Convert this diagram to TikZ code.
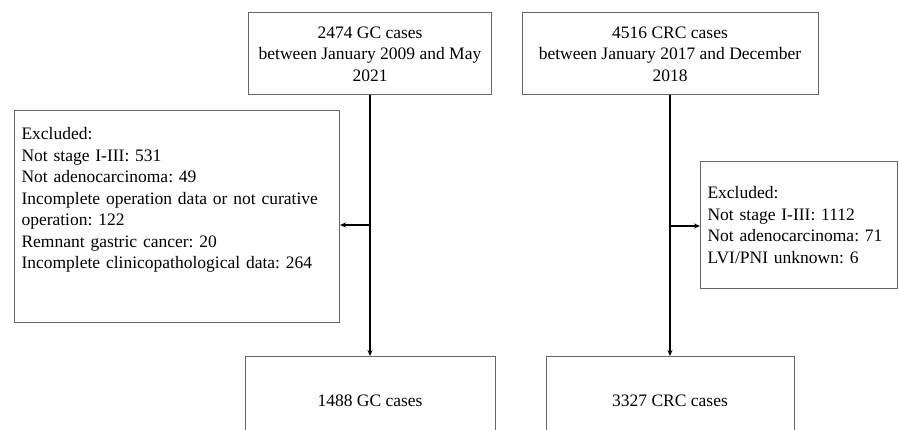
\documentclass[tikz,border=0pt]{standalone}
\usepackage{fontspec}
\setmainfont{Liberation Serif}
\usetikzlibrary{arrows.meta, positioning}
\frenchspacing

\begin{document}
\begin{tikzpicture}[
    x=1pt, y=1pt,
    ->,
    >={Stealth[length=6pt, width=5pt]},
    line width=1.3pt,
    every node/.style={font=\fontsize{17.5}{21.5}\selectfont},
    box/.style={draw=black!60, line width=1pt, align=center, inner sep=0pt},
    exbox/.style={draw=black!60, line width=1pt, align=left, inner xsep=7pt},
]
    \useasboundingbox (0,0) rectangle (899,-430);

    \node[box, minimum width=243, minimum height=82] (gc)  at (370,-54)
        {2474 GC cases\\between January 2009 and May\\2021};
    \node[box, minimum width=296, minimum height=82] (crc) at (670,-54)
        {4516 CRC cases\\between January 2017 and December\\2018};

    \node[exbox, anchor=north west, text width=311, inner ysep=17pt, text depth=166pt] (gcex) at (14,-110)
        {Excluded:\\Not stage I-III: 531\\Not adenocarcinoma: 49\\Incomplete operation data or not curative\\operation: 122\\Remnant gastric cancer: 20\\Incomplete clinicopathological data: 264};
    \node[exbox, anchor=west, text width=183, minimum height=126] (crcex) at (700,-225)
        {Excluded:\\Not stage I-III: 1112\\Not adenocarcinoma: 71\\LVI/PNI unknown: 6};

    \node[box, anchor=north, minimum width=250, minimum height=88] (gcout)  at (370,-356) {1488 GC cases};
    \node[box, anchor=north, minimum width=248, minimum height=88] (crcout) at (670,-356) {3327 CRC cases};

    \coordinate (gcsplit)  at (370,-225);
    \coordinate (crcsplit) at (670,-226);

    \path
        (gc)       edge (gcout)
        (crc)      edge (crcout)
        (gcsplit)  edge (gcsplit -| gcex.east)
        (crcsplit) edge (crcsplit -| crcex.west)
    ;
\end{tikzpicture}
\end{document}
